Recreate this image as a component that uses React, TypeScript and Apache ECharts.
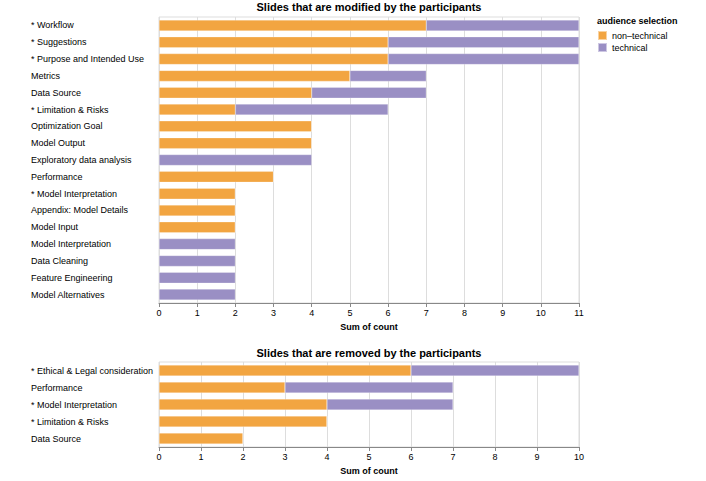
import React, { useEffect, useRef } from "react";
import * as echarts from "echarts";

const modifiedCategories = [
  "* Workflow",
  "* Suggestions",
  "* Purpose and Intended Use",
  "Metrics",
  "Data Source",
  "* Limitation & Risks",
  "Optimization Goal",
  "Model Output",
  "Exploratory data analysis",
  "Performance",
  "* Model Interpretation",
  "Appendix: Model Details",
  "Model Input",
  "Model Interpretation",
  "Data Cleaning",
  "Feature Engineering",
  "Model Alternatives",
];
const modifiedNonTechnical = [7, 6, 6, 5, 4, 2, 4, 4, 0, 3, 2, 2, 2, 0, 0, 0, 0];
const modifiedTechnical = [4, 5, 5, 2, 3, 4, 0, 0, 4, 0, 0, 0, 0, 2, 2, 2, 2];

const removedCategories = [
  "* Ethical & Legal consideration",
  "Performance",
  "* Model Interpretation",
  "* Limitation & Risks",
  "Data Source",
];
const removedNonTechnical = [6, 3, 4, 4, 2];
const removedTechnical = [4, 4, 3, 0, 0];

const ORANGE = "#F2A541";
const PURPLE = "#9A8FC4";
const FONT = "'Liberation Sans', Arial, sans-serif";

export default function App() {
  const ref = useRef<HTMLDivElement>(null);
  useEffect(() => {
    const chart = echarts.init(ref.current!, undefined, { renderer: "svg" });
    const axisLabelY = {
      align: "left" as const,
      margin: 128,
      fontSize: 9,
      color: "#000",
      fontFamily: FONT,
    };
    const xCommon = {
      type: "value" as const,
      min: 0,
      interval: 1,
      axisLine: { show: true, lineStyle: { color: "#888", width: 1 } },
      axisTick: { show: true, length: 4, lineStyle: { color: "#888" } },
      axisLabel: { fontSize: 9, color: "#000", fontFamily: FONT, margin: 5 },
      splitLine: { show: true, lineStyle: { color: "#ddd", width: 1 } },
      name: "Sum of count",
      nameLocation: "middle" as const,
      nameGap: 19,
      nameTextStyle: { fontSize: 9, fontWeight: "bold" as const, color: "#000", fontFamily: FONT },
    };
    const yCommon = {
      type: "category" as const,
      inverse: true,
      axisLine: { show: false },
      axisTick: { show: false },
      axisLabel: axisLabelY,
      splitLine: { show: false },
    };
    const barCommon = {
      type: "bar" as const,
      barWidth: 11,
      itemStyle: { borderColor: "rgba(255,255,255,0.5)", borderWidth: 0.5 },
    };
    const titleStyle = { fontSize: 11, fontWeight: "bold" as const, color: "#000", fontFamily: FONT };
    chart.setOption({
      animation: false,
      textStyle: { fontFamily: FONT },
      title: [
        {
          text: "Slides that are modified by the participants",
          left: 369,
          top: 1,
          padding: 0,
          textAlign: "center",
          textStyle: titleStyle,
        },
        {
          text: "Slides that are removed by the participants",
          left: 369,
          top: 347,
          padding: 0,
          textAlign: "center",
          textStyle: titleStyle,
        },
        {
          text: "audience selection",
          left: 597,
          top: 16,
          padding: 0,
          textStyle: { fontSize: 9, fontWeight: "bold", color: "#000", fontFamily: FONT },
        },
      ],
      legend: {
        orient: "vertical",
        left: 597,
        top: 30,
        padding: 0,
        itemWidth: 9,
        itemHeight: 9,
        itemGap: 1,
        icon: "rect",
        textStyle: { fontSize: 9, color: "#000", fontFamily: FONT, lineHeight: 10 },
        data: ["non\u2013technical", "technical"],
      },
      grid: [
        { left: 159, top: 17, width: 420, height: 286, show: true, borderColor: "#ddd", borderWidth: 1, backgroundColor: "transparent" },
        { left: 159, top: 362, width: 420, height: 85, show: true, borderColor: "#ddd", borderWidth: 1, backgroundColor: "transparent" },
      ],
      xAxis: [
        { ...xCommon, gridIndex: 0, max: 11 },
        { ...xCommon, gridIndex: 1, max: 10 },
      ],
      yAxis: [
        { ...yCommon, gridIndex: 0, data: modifiedCategories },
        { ...yCommon, gridIndex: 1, data: removedCategories },
      ],
      series: [
        { ...barCommon, name: "non\u2013technical", stack: "a", xAxisIndex: 0, yAxisIndex: 0, data: modifiedNonTechnical, itemStyle: { ...barCommon.itemStyle, color: ORANGE } },
        { ...barCommon, name: "technical", stack: "a", xAxisIndex: 0, yAxisIndex: 0, data: modifiedTechnical, itemStyle: { ...barCommon.itemStyle, color: PURPLE } },
        { ...barCommon, name: "non\u2013technical", stack: "b", xAxisIndex: 1, yAxisIndex: 1, data: removedNonTechnical, itemStyle: { ...barCommon.itemStyle, color: ORANGE } },
        { ...barCommon, name: "technical", stack: "b", xAxisIndex: 1, yAxisIndex: 1, data: removedTechnical, itemStyle: { ...barCommon.itemStyle, color: PURPLE } },
      ],
    });
    return () => chart.dispose();
  }, []);
  return <div ref={ref} style={{ position: "fixed", left: 0, top: 0, width: 706, height: 481, background: "#fff" }} />;
}
